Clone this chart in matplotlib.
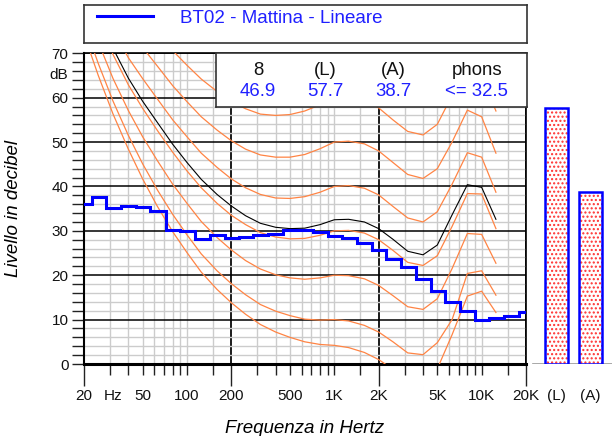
import matplotlib
matplotlib.use("Agg")
import matplotlib.pyplot as plt
from matplotlib.ticker import NullFormatter
from matplotlib.transforms import blended_transform_factory

plt.rcParams["font.family"] = ["Liberation Sans", "DejaVu Sans"]

W, H = 612, 436          # Zielgroesse in Pixel (dpi 100)

# --- Daten -----------------------------------------------------------------
# Terzband-Mittenfrequenzen (Hz)
bands = [20, 25, 31.5, 40, 50, 63, 80, 100, 125, 160, 200, 250, 315, 400,
         500, 630, 800, 1000, 1250, 1600, 2000, 2500, 3150, 4000, 5000,
         6300, 8000, 10000, 12500, 16000, 20000]
# gemessenes Terzspektrum (dB)
spectrum_db = [36.1, 37.7, 35.2, 35.7, 35.3, 34.5, 30.3, 29.9, 28.2, 29.0,
               28.5, 28.7, 29.0, 29.4, 30.2, 30.3, 29.8, 28.8, 28.3, 27.2,
               25.7, 23.6, 21.9, 19.1, 16.5, 14.0, 11.9, 9.9, 10.4, 10.8, 11.8]
legend_label = "BT02 - Mattina - Lineare"

# Isophone (20 Hz .. 12.5 kHz)
contour_freqs = bands[:29]
iso_threshold = [74.3, 65.0, 56.3, 48.4, 41.7, 35.5, 29.8, 25.1, 20.7, 16.8,
                 13.8, 11.2, 8.9, 7.2, 6.0, 5.0, 4.4, 4.2, 3.7, 2.6, 1.0, -1.2,
                 -3.6, -3.9, -1.1, 6.6, 15.3, 16.4, 11.6]
iso_10 = [76.8, 67.7, 59.2, 51.5, 45.1, 39.2, 33.7, 29.1, 24.8, 21.0, 18.1,
          15.6, 13.4, 11.9, 10.9, 10.1, 9.9, 10.0, 9.7, 8.7, 7.2, 5.0, 2.5,
          2.1, 4.8, 10.0, 20.4, 21.0, 15.5]
iso_20 = [81.3, 72.5, 64.3, 57.1, 51.2, 45.8, 40.5, 36.2, 32.1, 28.5, 25.7,
          23.3, 21.4, 20.1, 19.4, 19.1, 19.4, 20.0, 19.9, 19.2, 17.7, 15.4,
          12.9, 12.3, 14.7, 21.5, 29.4, 29.2, 22.7]
iso_30 = [86.0, 77.6, 69.7, 62.9, 57.6, 52.6, 47.7, 43.5, 39.7, 36.2, 33.5,
          31.4, 29.6, 28.6, 28.2, 28.3, 29.0, 30.0, 30.1, 29.5, 28.0, 25.6,
          22.9, 22.2, 24.4, 31.0, 38.4, 38.3, 30.5]
iso_40 = [91.0, 82.9, 75.4, 69.0, 64.3, 59.7, 55.0, 51.2, 47.5, 44.3, 41.7,
          39.7, 38.2, 37.4, 37.3, 37.7, 38.7, 40.0, 40.2, 39.6, 38.1, 35.5,
          32.9, 32.0, 34.3, 40.5, 47.6, 46.6, 38.7]
iso_50 = [96.2, 88.5, 81.3, 75.4, 71.3, 67.1, 62.7, 59.1, 55.7, 52.7, 50.3,
          48.4, 47.1, 46.6, 46.6, 47.2, 48.5, 50.0, 50.2, 49.6, 48.0, 45.4,
          42.7, 41.8, 44.0, 50.0, 57.2, 55.7, 47.5]
iso_60 = [101.7, 94.4, 87.6, 82.1, 78.6, 74.8, 70.6, 67.3, 64.2, 61.4, 59.2,
          57.5, 56.3, 56.0, 56.2, 57.0, 58.4, 60.0, 60.1, 59.5, 57.7, 55.0,
          52.4, 51.6, 54.0, 60.5, 66.5, 65.0, 57.0]
# Isophone des Messwerts (32.5 phon), schwarz
iso_result = [87.2, 78.9, 71.1, 64.4, 59.2, 54.4, 49.5, 45.4, 41.6, 38.2,
              35.6, 33.4, 31.7, 30.8, 30.5, 30.6, 31.4, 32.5, 32.6, 32.0,
              30.5, 28.1, 25.4, 24.6, 26.8, 33.6, 40.4, 39.8, 32.6]

# Kennwerte
summary_heads = ["8", "(L)", "(A)", "phons"]
summary_vals = ["46.9", "57.7", "38.7", "<= 32.5"]
level_names = ["(L)", "(A)"]
level_values = [57.7, 38.7]

# Achsenbeschriftung
xlabel_pos = [20, 31.5, 50, 100, 200, 500, 1000, 2000, 5000, 10000, 20000]
xlabel_txt = ["20", "Hz", "50", "100", "200", "500", "1K", "2K", "5K",
              "10K", "20K"]

ORANGE = "#ff8444"
BLUE = "#0000ff"
TXT_BLUE = "#2020ff"
FS = 11

# --- Figur -----------------------------------------------------------------
fig = plt.figure(figsize=(W / 100, H / 100), dpi=100)
fig.patch.set_facecolor("white")

ax_rect = [84 / W, 1 - 364 / H, 442 / W, (364 - 53.3) / H]
ax = fig.add_axes(ax_rect)
ax.set_xscale("log")
ax.set_xlim(20, 20000)
ax.set_ylim(0, 70)

major_x = [20, 200, 2000, 20000]
minor_x = [m * d for d in (10, 100, 1000) for m in (3, 4, 5, 6, 7, 8, 9, 10, 15)]
ax.set_xticks(major_x)
ax.set_xticks(minor_x, minor=True)
ax.xaxis.set_major_formatter(NullFormatter())
ax.xaxis.set_minor_formatter(NullFormatter())
ax.set_yticks(range(0, 71, 10))
ax.set_yticks(range(0, 71, 2), minor=True)

ax.grid(which="minor", axis="both", color="#cccccc", lw=1.0, zorder=0)
ax.grid(which="major", axis="y", color="black", lw=1.1, zorder=1)
ax.grid(which="major", axis="x", color="#1a1a1a", lw=1.4, zorder=1)
ax.set_axisbelow(True)

ax.tick_params(axis="x", which="major", direction="out", length=15.8,
               width=1.0, color="#222")
ax.tick_params(axis="x", which="minor", direction="out", length=7.9,
               width=1.0, color="#222")
ax.tick_params(axis="y", which="both", direction="out", length=8.6,
               width=1.0, color="#222", pad=2.5, labelsize=FS,
               labelcolor="#111")

for side, lw in (("left", 1.5), ("bottom", 2.2), ("top", 1.2), ("right", 1.2)):
    ax.spines[side].set_linewidth(lw)
    ax.spines[side].set_color("black")

# Isophone
for vals in (iso_threshold, iso_10, iso_20, iso_30, iso_40, iso_50, iso_60):
    ax.plot(contour_freqs, vals, color=ORANGE, lw=0.9, zorder=3)
ax.plot(contour_freqs, iso_result, color="black", lw=0.8, zorder=4)

# Spektrum
spec_line, = ax.plot(bands, spectrum_db, drawstyle="steps-mid", color=BLUE,
                     lw=2.2, zorder=5, solid_joinstyle="miter")

# x-Beschriftung
trx = blended_transform_factory(ax.transData, ax.transAxes)
for f, t in zip(xlabel_pos, xlabel_txt):
    ax.text(f, -0.103, t, transform=trx, ha="center", va="center",
            fontsize=FS, color="#111", clip_on=False)
try_ = blended_transform_factory(ax.transAxes, ax.transData)
ax.text(-0.036, 65, "dB", transform=try_, ha="right", va="center",
        fontsize=FS, color="#111")

ax.set_xlabel("Frequenza in Hertz", fontsize=13.5, style="italic")
ax.xaxis.set_label_coords(0.5, -0.180)
ax.set_ylabel("Livello in decibel", fontsize=13.5, style="italic")
ax.yaxis.set_label_coords(-0.140, 0.50)

# --- Pegelbalken (L) / (A) -------------------------------------------------
bx = fig.add_axes([526 / W, ax_rect[1], 86 / W, ax_rect[3]])
bx.set_ylim(0, 70)
bx.set_xlim(-0.897, 1.632)
bx.axis("off")
pos = range(len(level_values))
bx.bar(pos, level_values, width=0.676, color="white", edgecolor="#ff3030",
       hatch="....", lw=0, zorder=2)
bx.bar(pos, level_values, width=0.676, fill=False, edgecolor=BLUE, lw=1.8,
       zorder=3)
bx.axhline(0, xmin=7 / 86, xmax=1, color="#999999", lw=1.2, zorder=1)
trb = blended_transform_factory(bx.transData, bx.transAxes)
for p, t in zip(pos, level_names):
    bx.text(p, -0.103, t, transform=trb, ha="center", va="center",
            fontsize=FS, color="#111", clip_on=False)

# --- Kennwert-Kasten -------------------------------------------------------
box = fig.add_axes([216 / W, 1 - 107 / H, 311 / W, 54 / H], zorder=10)
box.set_xticks([])
box.set_yticks([])
box.set_facecolor("white")
for s in box.spines.values():
    s.set_color("#333333")
    s.set_linewidth(1.2)
col_x = [0.135, 0.350, 0.569, 0.839]
for cx, head, val in zip(col_x, summary_heads, summary_vals):
    box.text(cx, 0.685, head, ha="center", va="center", fontsize=13.4,
             color="#111", transform=box.transAxes)
    box.text(cx, 0.278, val, ha="center", va="center", fontsize=13.4,
             color=TXT_BLUE, transform=box.transAxes)

# --- Legendenkasten --------------------------------------------------------
lbox = fig.add_axes([84 / W, 1 - 43 / H, 443 / W, 38 / H], zorder=1)
lbox.set_xticks([])
lbox.set_yticks([])
for s in lbox.spines.values():
    s.set_color("#333333")
    s.set_linewidth(1.2)
fig.legend(handles=[spec_line], labels=[legend_label], loc="center left",
           bbox_to_anchor=(97 / W, 1 - 18 / H), frameon=False, borderpad=0,
           borderaxespad=0, handlelength=3.0, handletextpad=1.45,
           fontsize=13.5, labelcolor=TXT_BLUE)

fig.savefig("out.png", dpi=100)
